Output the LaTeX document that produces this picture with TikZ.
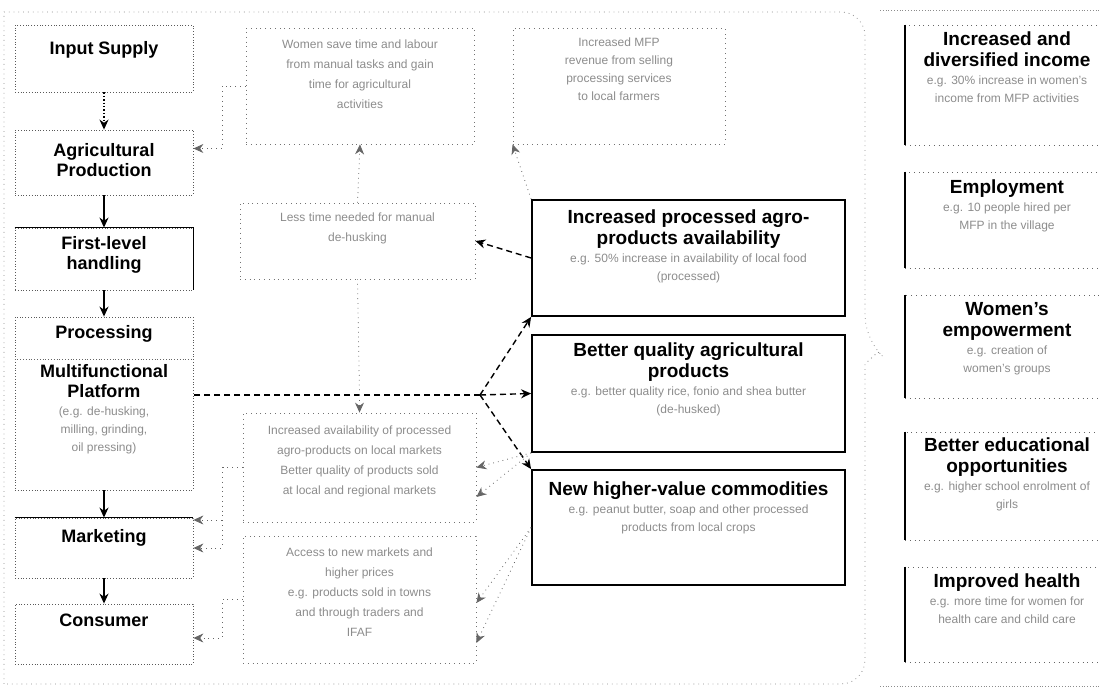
\documentclass[tikz,border=0pt]{standalone}
\usepackage{fontspec}
\setmainfont{Liberation Sans}
\usetikzlibrary{arrows.meta,positioning,calc}

\newcommand{\inbox}[3]{\begin{minipage}[c][#2][t]{#1}\centering #3\end{minipage}}
\newcommand{\headfont}{\fontsize{9}{10}\selectfont\bfseries}
\newcommand{\bighead}{\fontsize{9.5}{10.5}\selectfont\bfseries}
\newcommand{\notefont}{\fontsize{6}{9}\selectfont\color{black!45}}
\newcommand{\midfont}{\fontsize{6}{10}\selectfont\color{black!45}}

\begin{document}
\begin{tikzpicture}[x=0.5pt,y=-0.5pt,
	stage/.style={draw=black!65, densely dotted, inner sep=0pt},
	effect/.style={draw=black!55, dotted, inner sep=0pt},
	outcome/.style={draw, line width=0.9pt, inner sep=0pt},
	impact/.style={draw=black!60, dotted, inner sep=0pt},
	arrowed/.style={-{Stealth[length=5pt,width=4.5pt]}},
	flow/.style={line width=0.7pt},
	link/.style={densely dashed, line width=0.7pt},
	faint/.style={dotted, draw=black!60},
	groupframe/.style={dotted, draw=black!45}]
		\useasboundingbox (0,0) rectangle (1099,694);

		% value chain
		\node[stage] (supply) at (104,58.5) {\inbox{89pt}{33.5pt}{\vspace{8pt}\headfont Input Supply}};
		\node[stage] (agri) at (104,162.5) {\inbox{89pt}{32.5pt}{\vspace{6.5pt}\headfont Agricultural\\Production}};
		\node[stage] (first) at (104,259) {\inbox{89pt}{31pt}{\vspace{4pt}\headfont First-level\\handling}};
		\node[stage] (proc) at (104,403.5) {\inbox{89pt}{86.5pt}{\vspace{4pt}{\headfont Processing\par}\vspace{9.5pt}{\headfont Multifunctional\\Platform\par}{\notefont (e.g. de-husking,\\milling, grinding,\\oil pressing)\par}}};
		\node[stage] (mkt) at (104,548) {\inbox{89pt}{30pt}{\vspace{5.5pt}\headfont Marketing}};
		\node[stage] (cons) at (104,634) {\inbox{89pt}{30pt}{\vspace{5pt}\headfont Consumer}};

		\draw[line width=0.9pt] (first.north west) -- (first.north east) -- (first.south east);
		\draw[line width=0.9pt] (mkt.north west) -- (mkt.north east);
		\draw[densely dotted, black!60] ([yshift=-21.5pt]proc.north west) -- ([yshift=-21.5pt]proc.north east);

		\draw[flow, arrowed, densely dotted] (supply) -- (agri);
		\draw[flow, arrowed] (agri) -- (first);
		\draw[flow, arrowed] (first) -- (proc);
		\draw[flow, arrowed] (proc) -- (mkt);
		\draw[flow, arrowed] (mkt) -- (cons);

		% direct effects
		\node[effect] (saving) at (360,86) {\inbox{114pt}{58pt}{\vspace{6pt}\midfont Women save time and labour\\from manual tasks and gain\\time for agricultural\\activities}};
		\node[effect] (revenue) at (619,86) {\inbox{106pt}{58pt}{\vspace{5pt}\notefont Increased MFP\\revenue from selling\\processing services\\to local farmers}};
		\node[effect] (labour) at (357.5,241) {\inbox{117.5pt}{38pt}{\vspace{5pt}\midfont Less time needed for manual\\de-husking}};
		\node[effect] (availability) at (359.5,467.5) {\inbox{116.5pt}{54.5pt}{\vspace{6.5pt}\midfont Increased availability of processed\\agro-products on local markets\\Better quality of products sold\\at local and regional markets}};
		\node[effect] (access) at (359.5,599.5) {\inbox{116.5pt}{63.5pt}{\vspace{6pt}\midfont Access to new markets and\\higher prices\\e.g. products sold in towns\\and through traders and\\IFAF}};

		% outcomes
		\node[outcome] (avail) at (688.5,258) {\inbox{156.5pt}{58pt}{\vspace{5pt}{\bighead Increased processed agro-\\products availability\par}{\notefont e.g. 50\% increase in availability of local food\\(processed)\par}}};
		\node[outcome] (quality) at (688.5,393.5) {\inbox{156.5pt}{58.5pt}{\vspace{4pt}{\bighead Better quality agricultural\\products\par}{\notefont e.g. better quality rice, fonio and shea butter\\(de-husked)\par}}};
		\node[outcome] (newcom) at (688.5,527.5) {\inbox{156.5pt}{57.5pt}{\vspace{6pt}{\bighead New higher-value commodities\par}{\notefont e.g. peanut butter, soap and other processed\\products from local crops\par}}};

		% impacts
		\node[impact] (income) at (1007,85) {\inbox{102pt}{60pt}{\vspace{3.5pt}{\bighead Increased and\\diversified income\par}{\notefont e.g. 30\% increase in women's\\income from MFP activities\par}}};
		\node[impact] (employ) at (1007,220) {\inbox{102pt}{48pt}{\vspace{4pt}{\bighead Employment\par}{\notefont e.g. 10 people hired per\\MFP in the village\par}}};
		\node[impact] (women) at (1007,346.5) {\inbox{102pt}{51.5pt}{\vspace{3.5pt}{\bighead Women's\\empowerment\par}{\notefont e.g. creation of\\women's groups\par}}};
		\node[impact] (educ) at (1007,486) {\inbox{102pt}{54pt}{\vspace{3pt}{\bighead Better educational\\opportunities\par}{\notefont e.g. higher school enrolment of\\girls\par}}};
		\node[impact] (health) at (1007,614.5) {\inbox{102pt}{47.5pt}{\vspace{3.5pt}{\bighead Improved health\par}{\notefont e.g. more time for women for\\health care and child care\par}}};
		\foreach \n in {income,employ,women,educ,health}
			\draw[line width=1pt] (\n.north west) -- (\n.south west);

		% connectors
		\coordinate (hub) at (480,395);
		\coordinate (busx) at (222,0);
		\draw[link] (hub) -- (hub -| proc.east);
		\draw[link, arrowed] (hub) -- (avail.south west);
		\draw[link, arrowed] (hub) -- (quality.west);
		\draw[link, arrowed] (hub) -- (newcom.north west);
		\draw[link, arrowed] (avail.west) -- (labour.east);
		\draw[faint, arrowed] (hub -| availability.north) -- (availability.north);
		\draw[faint] (hub -| availability.north) -- (labour.south);
		\draw[faint, arrowed] (labour.north) -- (saving.south);
		\draw[faint, arrowed] (avail.north west) -- (revenue.south west);
		\draw[faint, arrowed] (quality.south west) -- (availability.east);
		\draw[faint, arrowed] (quality.south west) -- ([yshift=-14.75pt]availability.east);
		\draw[faint, arrowed] (newcom.west) -- ([yshift=-1.75pt]access.east);
		\draw[faint, arrowed] (newcom.west) -- ([yshift=-21.75pt]access.east);
		\draw[faint, arrowed] (saving.west) -- (saving.west -| busx) |- ([yshift=7pt]agri.east);
		\draw[faint] (availability.west) -- (availability.west -| busx);
		\draw[faint, arrowed] (availability.west -| busx) |- ([yshift=14pt]mkt.east);
		\draw[faint, arrowed] (availability.west -| busx) |- (mkt.east);
		\draw[faint, arrowed] (access.west) -- (access.west -| busx) |- ([yshift=-2pt]cons.east);

		% group frames
		\draw[groupframe] (4,684) -- (4,12) [rounded corners=12pt] -- (865,12) -- (865,340) [sharp corners] -- (878,352) -- (865,364) [rounded corners=12pt] -- (865,684) -- (4,684);
		\draw[groupframe, densely dotted] (880,10) -- (1099,10);
		\draw[groupframe, densely dotted] (880,686) -- (1099,686);
	\end{tikzpicture}
\end{document}
